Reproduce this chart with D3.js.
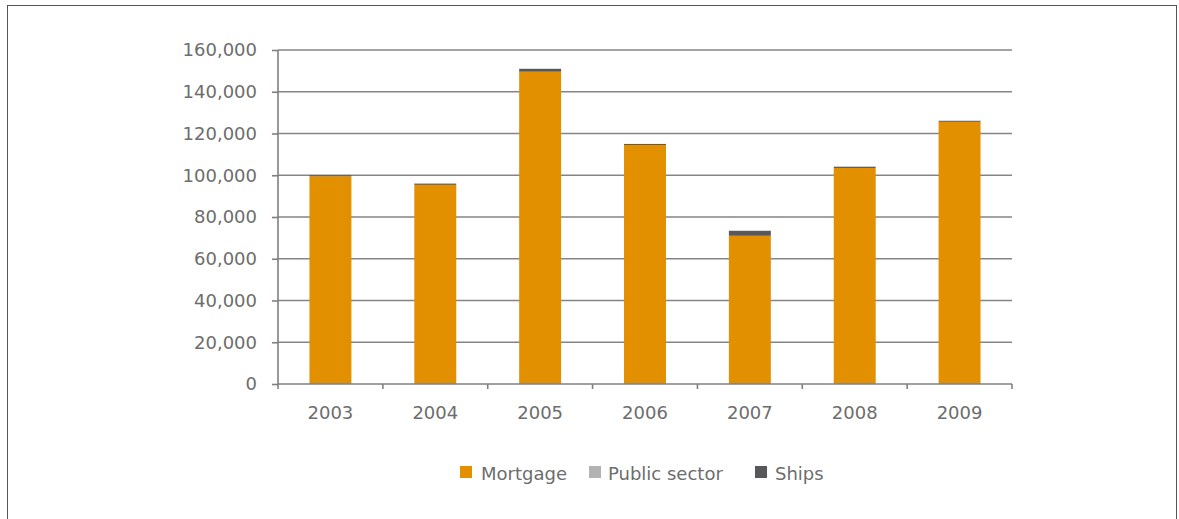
<!DOCTYPE html>
<html>
<head>
<meta charset="utf-8">
<script src="https://cdn.jsdelivr.net/npm/d3@7"></script>
<style>
  html, body { margin: 0; padding: 0; background: #fff; }
  svg { display: block; }
  text { font-family: "DejaVu Sans", Verdana, sans-serif; fill: #6d6d6d; }
</style>
</head>
<body>
<svg id="chart" width="1179" height="519"></svg>
<script>
const years = ["2003", "2004", "2005", "2006", "2007", "2008", "2009"];
const mortgage = [99500, 95400, 149600, 114500, 71000, 103500, 125600];
const publicSector = [0, 0, 0, 0, 0, 0, 0];
const ships = [500, 600, 1400, 500, 2400, 600, 500];
const seriesNames = ["Mortgage", "Public sector", "Ships"];
const seriesColors = ["#e28f00", "#b2b2b2", "#58585a"];
const yTicks = [0, 20000, 40000, 60000, 80000, 100000, 120000, 140000, 160000];

const svg = d3.select("#chart");
const W = 1179, H = 519;

// frame
svg.append("rect").attr("x", 7.5).attr("y", 5.5).attr("width", 1169).attr("height", 530)
  .attr("fill", "none").attr("stroke", "#555").attr("stroke-width", 1);

const x0 = 278, x1 = 1012, yTop = 50, yBot = 384;
const x = d3.scaleBand().domain(years).range([x0, x1]).paddingInner(0.6).paddingOuter(0.3);
const xb = d3.scaleBand().domain(years).range([x0, x1]);
const y = d3.scaleLinear().domain([0, 160000]).range([yBot, yTop]);

const fmt = d3.format(",");

// gridlines
svg.append("g").selectAll("line").data(yTicks.filter(d => d > 0)).join("line")
  .attr("x1", x0).attr("x2", x1)
  .attr("y1", d => y(d)).attr("y2", d => y(d))
  .attr("stroke", "#858585").attr("stroke-width", 1.6);

// stacked bars
const table = years.map((yr, i) => ({ year: yr, Mortgage: mortgage[i], "Public sector": publicSector[i], Ships: ships[i] }));
const stack = d3.stack().keys(seriesNames)(table);
svg.append("g").selectAll("g").data(stack).join("g")
  .attr("fill", (d, i) => seriesColors[i])
  .selectAll("rect").data(d => d).join("rect")
  .attr("x", d => x(d.data.year))
  .attr("width", x.bandwidth())
  .attr("y", d => y(d[1]))
  .attr("height", d => Math.max(0, y(d[0]) - y(d[1])));

// y axis
const yAxis = d3.axisLeft(y).tickValues(yTicks).tickFormat(fmt).tickSize(6).tickPadding(15);
const gy = svg.append("g").attr("transform", `translate(${x0},0)`).call(yAxis);
gy.select(".domain").attr("stroke", "#808080").attr("stroke-width", 1.6).attr("d", `M0,${yTop}V${yBot}`);
gy.selectAll(".tick line").attr("stroke", "#808080").attr("stroke-width", 1.6);
gy.selectAll(".tick text").attr("font-size", 18).style("font-family", '"DejaVu Sans", Verdana, sans-serif').attr("fill", "#6d6d6d");

// x axis
const gx = svg.append("g").attr("transform", `translate(0,${yBot})`);
gx.append("line").attr("x1", x0).attr("x2", x1).attr("y1", 0).attr("y2", 0)
  .attr("stroke", "#808080").attr("stroke-width", 1.6);
const bounds = years.map(d => xb(d)).concat([x1]);
gx.selectAll("line.t").data(bounds).join("line").attr("class", "t")
  .attr("x1", d => d).attr("x2", d => d).attr("y1", 0).attr("y2", 5)
  .attr("stroke", "#808080").attr("stroke-width", 1.6);
gx.selectAll("text").data(years).join("text")
  .attr("x", d => xb(d) + xb.bandwidth() / 2).attr("y", 35)
  .attr("text-anchor", "middle").attr("font-size", 18).text(d => d);

// legend
const legendItems = [
  { name: "Mortgage", color: seriesColors[0], sx: 460, tx: 481 },
  { name: "Public sector", color: seriesColors[1], sx: 589, tx: 608 },
  { name: "Ships", color: seriesColors[2], sx: 755, tx: 775 }
];
const lg = svg.append("g");
lg.selectAll("rect").data(legendItems).join("rect")
  .attr("x", d => d.sx).attr("y", 466).attr("width", 12).attr("height", 12).attr("fill", d => d.color);
lg.selectAll("text").data(legendItems).join("text")
  .attr("x", d => d.tx).attr("y", 479.5).attr("font-size", 18).text(d => d.name);
</script>
</body>
</html>
